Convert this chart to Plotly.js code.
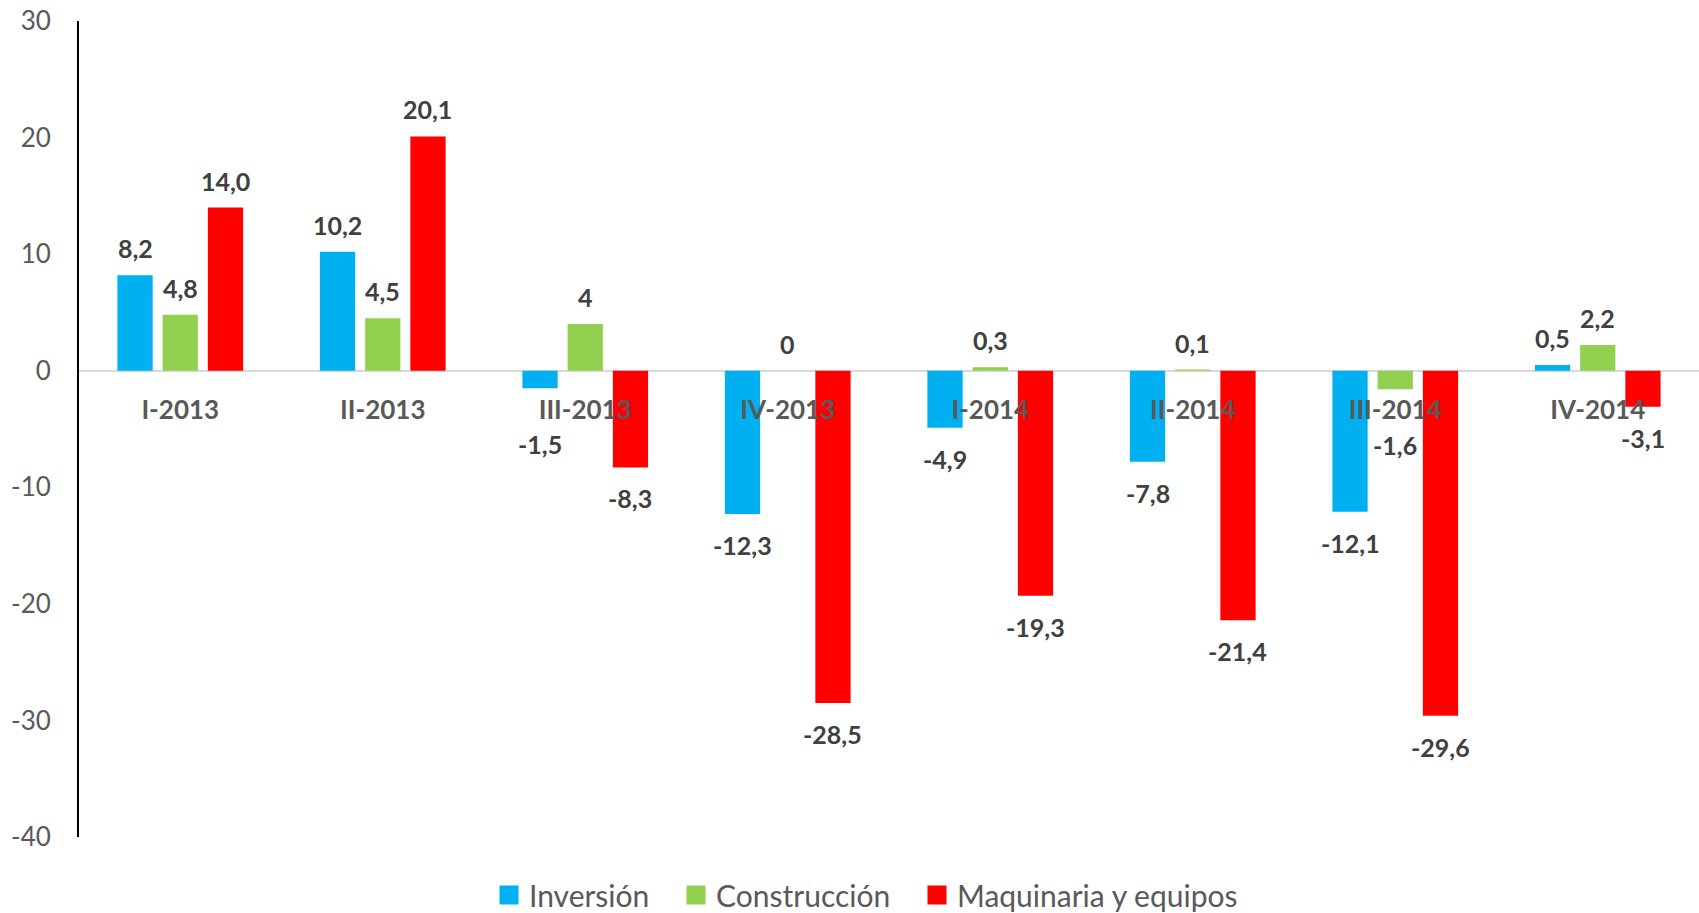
<!DOCTYPE html>
<html>
<head>
<meta charset="utf-8">
<script src="https://cdn.plot.ly/plotly-3.0.1.min.js"></script>
<style>html,body{margin:0;padding:0;background:#fff;}#chart{width:1699px;height:913px;}</style>
</head>
<body>
<div id="chart"></div>
<script>
const categories = ["I-2013","II-2013","III-2013","IV-2013","I-2014","II-2014","III-2014","IV-2014"];
const seriesNames = ["Inversión","Construcción","Maquinaria y equipos"];
const inversion = [8.2, 10.2, -1.5, -12.3, -4.9, -7.8, -12.1, 0.5];
const construccion = [4.8, 4.5, 4, 0, 0.3, 0.1, -1.6, 2.2];
const maquinaria = [14.0, 20.1, -8.3, -28.5, -19.3, -21.4, -29.6, -3.1];
const inversionLabels = ["8,2","10,2","-1,5","-12,3","-4,9","-7,8","-12,1","0,5"];
const construccionLabels = ["4,8","4,5","4","0","0,3","0,1","-1,6","2,2"];
const maquinariaLabels = ["14,0","20,1","-8,3","-28,5","-19,3","-21,4","-29,6","-3,1"];
const yTicks = [-40,-30,-20,-10,0,10,20,30];

const colors = ["#00B0F0","#92D050","#FF0000"];
const values = [inversion, construccion, maquinaria];
const labels = [inversionLabels, construccionLabels, maquinariaLabels];

const W = 1699, H = 913;
const margin = {l:79, r:0, t:21, b:76};
const plotW = W - margin.l - margin.r;
const bargap = 0.33;
const slot = plotW / categories.length * (1 - bargap) / values.length;
const yRange = [-40, 30];
const FONT = "Lato, 'Open Sans', sans-serif";

const legendIds = ["legend","legend2","legend3"];
const traces = values.map((v, i) => ({
  type: "bar",
  name: seriesNames[i],
  x: categories,
  y: v,
  marker: {color: colors[i]},
  showlegend: false,
  hoverinfo: "x+y"
}));
// legend-only entries with square swatches
seriesNames.forEach((n, i) => {
  traces.push({
    type: "scatter", mode: "markers", name: n,
    x: [null], y: [null],
    marker: {symbol: "square", size: 18, color: colors[i], line: {color: colors[i], width: 3}},
    legend: legendIds[i], showlegend: true
  });
});

const annotations = [];
values.forEach((v, s) => {
  v.forEach((val, c) => {
    let ys = val >= 0 ? 27 : -31;
    if (val < 0 && Math.abs(val) < 2) ys = -56;
    annotations.push({
      x: categories[c], y: val, xref: "x", yref: "y",
      text: labels[s][c], showarrow: false,
      xshift: (s - 1) * slot, yshift: ys,
      xanchor: "center", yanchor: "middle",
      font: {family: FONT, size: 25, color: "#404040", weight: "bold"}
    });
  });
});

const legendFont = {family: FONT, size: 30, color: "#595959"};
const legendStarts = [489, 676, 917];
const legends = {};
legendIds.forEach((id, i) => {
  legends[id] = {
    orientation: "h",
    xref: "container", x: legendStarts[i] / W, xanchor: "left",
    yref: "container", y: (H - 895) / H, yanchor: "middle",
    font: legendFont, bgcolor: "rgba(0,0,0,0)", itemsizing: "trace"
  };
});

const layout = Object.assign({
  width: W, height: H,
  margin: Object.assign({autoexpand: false}, margin),
  paper_bgcolor: "#fff", plot_bgcolor: "#fff",
  barmode: "group", bargap: bargap, bargroupgap: 0.22,
  showlegend: true,
  xaxis: {
    type: "category", anchor: "free", range: [-0.5, categories.length - 0.5],
    position: (0 - yRange[0]) / (yRange[1] - yRange[0]),
    showline: false, showgrid: false, zeroline: false, ticks: "",
    ticklabelstandoff: 21,
    tickfont: {family: FONT, size: 26, color: "#595959", weight: "bold"}
  },
  yaxis: {
    range: yRange, tickvals: yTicks, ticktext: yTicks.map(String),
    showgrid: false, zeroline: true, zerolinecolor: "#d9d9d9", zerolinewidth: 2,
    showline: true, linecolor: "#000", linewidth: 2, ticks: "",
    ticklabelstandoff: 21,
    tickfont: {family: FONT, size: 26, color: "#595959"}
  },
  annotations: annotations
}, legends);

Plotly.newPlot("chart", traces, layout, {displayModeBar: false, staticPlot: true});
</script>
</body>
</html>
